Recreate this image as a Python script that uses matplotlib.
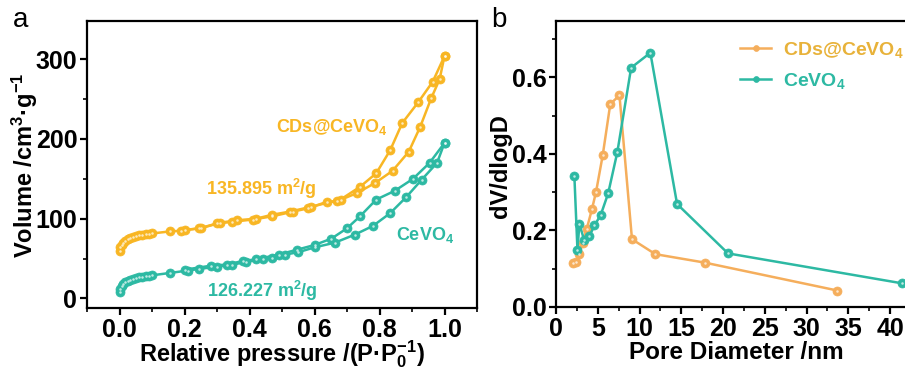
import matplotlib
matplotlib.use("Agg")
import matplotlib.pyplot as plt
from matplotlib.ticker import MultipleLocator
import numpy as np

plt.rcParams['font.family'] = ['Liberation Sans', 'DejaVu Sans']
plt.rcParams['font.weight'] = 'bold'
plt.rcParams['mathtext.fontset'] = 'custom'
plt.rcParams['mathtext.rm'] = 'Liberation Sans:bold'
plt.rcParams['mathtext.bf'] = 'Liberation Sans:bold'
plt.rcParams['mathtext.it'] = 'Liberation Sans:bold'
plt.rcParams['mathtext.default'] = 'regular'

# ---------------- data: panel a (N2 isotherms) ----------------
cds_ads_p = [0.0, 0.003, 0.007, 0.012, 0.018, 0.025, 0.033, 0.042, 0.051, 0.06, 0.07, 0.08, 0.09, 0.1,
             0.154, 0.19, 0.246, 0.30, 0.345, 0.41, 0.47, 0.535, 0.58, 0.637, 0.67, 0.73, 0.787,
             0.84, 0.89, 0.925, 0.959, 0.985, 1.0]
cds_ads_v = [60, 64, 67, 70, 72, 74, 75.5, 77, 78, 79, 79.8, 80.4, 81, 81.5,
             84, 85, 88, 94, 96, 99, 103, 109, 113, 121, 122, 132, 145,
             160, 184, 215, 251, 275, 304]
cds_des_p = [1.0, 0.964, 0.919, 0.87, 0.833, 0.79, 0.74, 0.68, 0.59, 0.525, 0.47, 0.42, 0.36, 0.31, 0.25, 0.2]
cds_des_v = [304, 272, 246, 220, 186, 157, 140, 124, 115, 109, 105, 100, 98, 95, 88, 86]

ce_ads_p = [0.0, 0.003, 0.007, 0.012, 0.018, 0.025, 0.033, 0.042, 0.051, 0.06, 0.07, 0.08, 0.09, 0.1,
            0.156, 0.21, 0.246, 0.30, 0.345, 0.39, 0.44, 0.47, 0.51, 0.55, 0.60, 0.663, 0.724,
            0.78, 0.833, 0.882, 0.93, 0.977, 1.0]
ce_ads_v = [8, 12, 15, 18, 20, 22, 23.5, 24.5, 25.5, 26.3, 27, 27.6, 28.2, 29,
            32, 35, 37, 40, 42, 46, 49, 51, 55, 58, 64, 70, 80,
            91, 107, 127, 149, 170, 195]
ce_des_p = [1.0, 0.954, 0.903, 0.847, 0.79, 0.74, 0.70, 0.652, 0.60, 0.545, 0.49, 0.42, 0.38, 0.33, 0.28, 0.2]
ce_des_v = [195, 170, 150, 135, 124, 103, 88, 75, 67, 61, 55, 49, 47, 42.5, 41, 36]

# ---------------- data: panel b (pore size distribution) ----------------
cds_d = [2.0, 2.4, 2.8, 3.2, 3.67, 4.3, 4.8, 5.6, 6.5, 7.6, 9.1, 11.9, 17.8, 33.7]
cds_dv = [0.114, 0.118, 0.138, 0.168, 0.203, 0.255, 0.301, 0.397, 0.530, 0.553, 0.177, 0.138, 0.116, 0.043]
ce_d = [2.2, 2.57, 2.8, 3.37, 4.0, 4.6, 5.35, 6.25, 7.35, 9.0, 11.3, 14.5, 20.6, 41.4]
ce_dv = [0.342, 0.149, 0.217, 0.175, 0.185, 0.213, 0.240, 0.297, 0.405, 0.625, 0.664, 0.269, 0.140, 0.062]

gold = '#F8B624'
teal = '#2DB9A3'
orange_b = '#F5AE5C'
gold_txt = '#E8B23A'

W, H = 905, 370
fig = plt.figure(figsize=(W / 100, H / 100), dpi=100)

axa = fig.add_axes([87 / W, 1 - 308 / H, (477 - 87) / W, (308 - 21) / H])
axb = fig.add_axes([556 / W, 1 - 307 / H, (907 - 556) / W, (307 - 21) / H])


def series(ax, x, y, color, ms=6.5):
    line, = ax.plot(x, y, '-', color=color, lw=1.8, marker='o', ms=ms,
                    mfc=color, mec=color, mew=0.5, zorder=3)
    ax.plot(x, y, 'o', color='white', ms=ms * 0.28, alpha=0.7, mew=0, zorder=4)
    return line


series(axa, cds_ads_p, cds_ads_v, gold)
series(axa, cds_des_p, cds_des_v, gold)
series(axa, ce_ads_p, ce_ads_v, teal)
series(axa, ce_des_p, ce_des_v, teal)

h1 = series(axb, cds_d, cds_dv, orange_b)
h2 = series(axb, ce_d, ce_dv, teal)

# axes styling
for ax in (axa, axb):
    for s in ax.spines.values():
        s.set_linewidth(1.6)
    ax.tick_params(which='major', direction='out', length=5, width=1.6, labelsize=18, pad=2)
    ax.tick_params(which='minor', direction='out', length=3, width=1.2)
    ax.tick_params(top=False, right=False)

axa.set_xlim(-0.1, 1.1)
axa.set_ylim(-12, 348)
axa.xaxis.set_minor_locator(MultipleLocator(0.1))
axa.yaxis.set_minor_locator(MultipleLocator(50))
axa.set_xticks([0.0, 0.2, 0.4, 0.6, 0.8, 1.0])
axa.set_xticklabels(['0.0', '0.2', '0.4', '0.6', '0.8', '1.0'], fontsize=18, fontweight='bold')
axa.set_yticks([0, 100, 200, 300])
axa.set_yticklabels(['0', '100', '200', '300'], fontsize=18, fontweight='bold')

fig.text(282 / W, 1 - 361 / H, r'Relative pressure /(P·P$_{0}^{-1}$)', fontsize=17,
         fontweight='bold', ha='center', va='baseline')
fig.text(25 / W, 1 - 165 / H, r'Volume /cm$^{3}$·g$^{-1}$', fontsize=17,
         fontweight='bold', ha='center', va='center', rotation=90)

axa.text(0.653, 215, r'CDs@CeVO$_{4}$', color=gold, fontsize=13, fontweight='bold', ha='center', va='center')
axa.text(0.436, 137, r'135.895 m$^{2}$/g', color=gold, fontsize=13, fontweight='bold', ha='center', va='center')
axa.text(0.94, 80, r'CeVO$_{4}$', color=teal, fontsize=13, fontweight='bold', ha='center', va='center')
axa.text(0.44, 10, r'126.227 m$^{2}$/g', color=teal, fontsize=13, fontweight='bold', ha='center', va='center')

axb.set_xlim(0, (907 - 556) / 8.35)
axb.set_ylim(0, 0.747)
axb.xaxis.set_minor_locator(MultipleLocator(2.5))
axb.yaxis.set_minor_locator(MultipleLocator(0.1))
axb.set_xticks([0, 5, 10, 15, 20, 25, 30, 35, 40])
axb.set_xticklabels(['0', '5', '10', '15', '20', '25', '30', '35', '40'], fontsize=18, fontweight='bold')
axb.set_yticks([0.0, 0.2, 0.4, 0.6])
axb.set_yticklabels(['0.0', '0.2', '0.4', '0.6'], fontsize=18, fontweight='bold')
axb.spines['right'].set_visible(False)

fig.text(736 / W, 1 - 359 / H, 'Pore Diameter /nm', fontsize=17.5,
         fontweight='bold', ha='center', va='baseline')
fig.text(500 / W, 1 - 166 / H, 'dV/dlogD', fontsize=17,
         fontweight='bold', ha='center', va='center', rotation=90)

leg = fig.legend(handles=[h1, h2],
                 labels=[r'CDs@CeVO$_{4}$', r'CeVO$_{4}$'],
                 loc='upper left', bbox_to_anchor=(740 / W, 1 - 40 / H), frameon=False,
                 borderaxespad=0, borderpad=0,
                 fontsize=14, handlelength=1.6, handletextpad=0.6, labelspacing=0.55,
                 markerscale=0.65)
leg.get_texts()[0].set_color(gold_txt)
leg.get_texts()[1].set_color(teal)
for t in leg.get_texts():
    t.set_fontweight('bold')

fig.text(13 / W, 1 - 20 / H, 'a', fontsize=20, fontweight='normal', va='center', ha='left')
fig.text(491 / W, 1 - 20 / H, 'b', fontsize=20, fontweight='normal', va='center', ha='left')

fig.savefig('out.png', dpi=100)
